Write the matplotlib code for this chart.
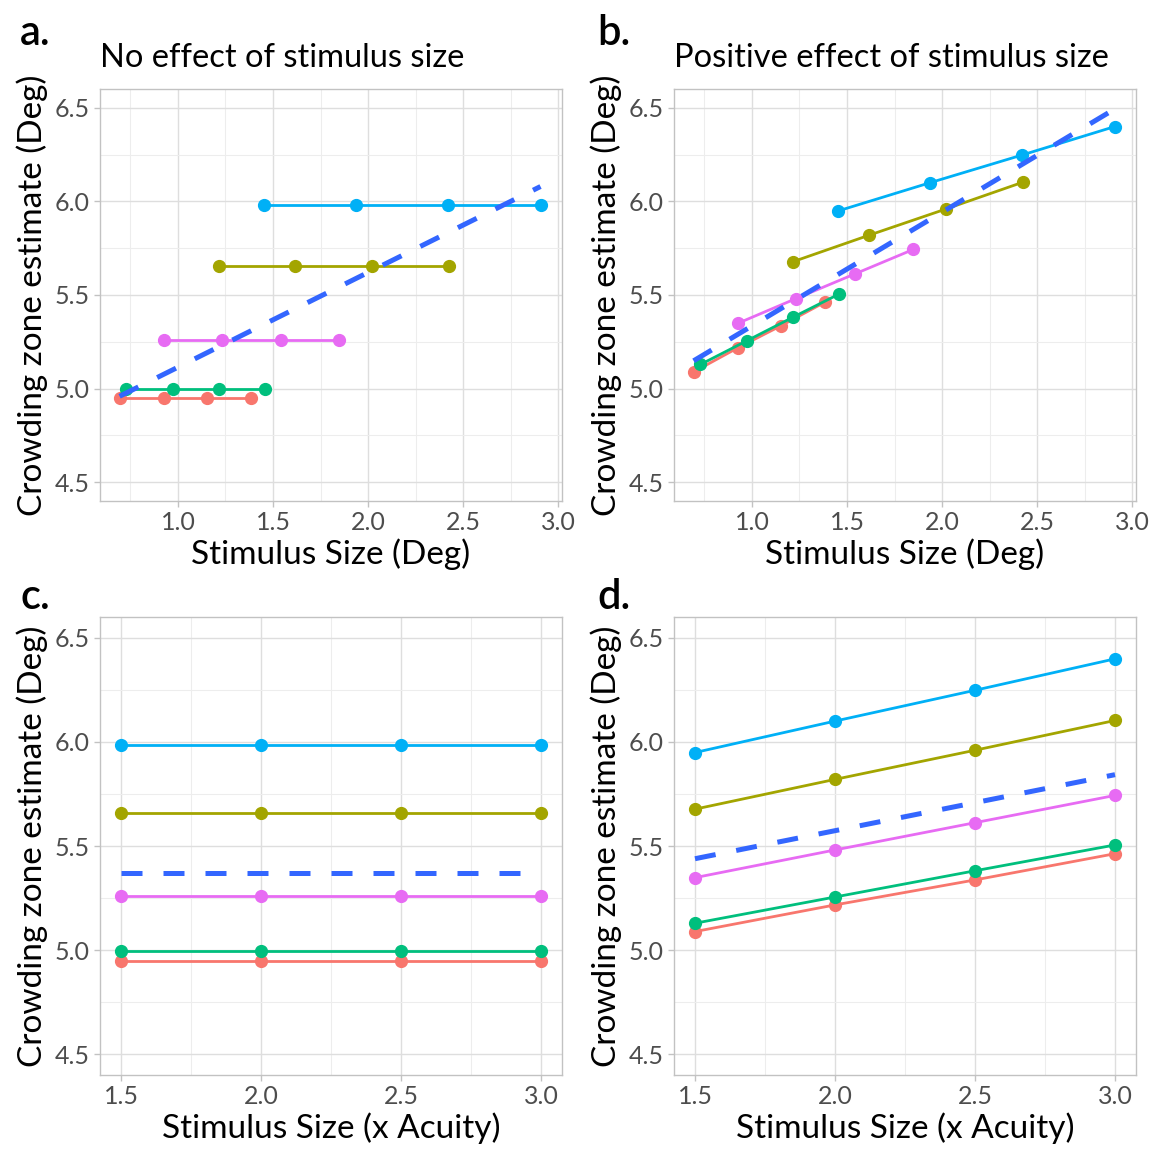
import numpy as np
import matplotlib.pyplot as plt
from matplotlib.ticker import MultipleLocator, FormatStrFormatter

plt.rcParams['font.family'] = ['Lato', 'DejaVu Sans']

# five observers, ggplot default hue palette
colours = ['#F8766D', '#00BF7D', '#E76BF3', '#A3A500', '#00B0F6']
acuity = [0.462, 0.486, 0.616, 0.809, 0.969]      # deg
size_multiple = [1.5, 2.0, 2.5, 3.0]               # x acuity

# model 1: crowding zone does not depend on stimulus size
flat_zone = [4.950, 4.997, 5.260, 5.657, 5.983]

# model 2: crowding zone grows with stimulus size
sloped_red = [5.089, 5.217, 5.337, 5.463]
sloped_green = [5.129, 5.255, 5.381, 5.505]
sloped_pink = [5.348, 5.481, 5.612, 5.743]
sloped_olive = [5.677, 5.820, 5.960, 6.103]
sloped_blue = [5.949, 6.100, 6.248, 6.399]
sloped_zone = [sloped_red, sloped_green, sloped_pink, sloped_olive, sloped_blue]

size_deg = [[a * m for m in size_multiple] for a in acuity]
size_acu = [size_multiple for _ in acuity]
flat_rows = [[z] * len(size_multiple) for z in flat_zone]

fig = plt.figure(figsize=(11.55, 11.51), dpi=100)

W = 1155.0
H = 1151.0


def make_ax(left, top, right, bottom):
    return fig.add_axes([left / W, 1 - bottom / H, (right - left) / W, (bottom - top) / H])


def draw_panel(ax, xs, ys, xlim, xmajor, xlabel):
    for x, y, c in zip(xs, ys, colours):
        ax.plot(x, y, '-o', color=c, lw=2.0, ms=8.5, zorder=3, clip_on=False)
    # linear fit over all points (geom_smooth, method = lm)
    allx = np.concatenate(xs)
    ally = np.concatenate(ys)
    k, b = np.polyfit(allx, ally, 1)
    fx = np.array([allx.min(), allx.max()])
    ax.plot(fx, k * fx + b, color='#3366FF', lw=3.6, dashes=(4.2, 4.2), zorder=4)

    ax.set_xlim(*xlim)
    ax.set_ylim(4.4, 6.6)
    ax.xaxis.set_major_locator(MultipleLocator(xmajor))
    ax.xaxis.set_minor_locator(MultipleLocator(xmajor / 2))
    ax.yaxis.set_major_locator(MultipleLocator(0.5))
    ax.yaxis.set_minor_locator(MultipleLocator(0.25))
    ax.xaxis.set_major_formatter(FormatStrFormatter('%.1f'))
    ax.yaxis.set_major_formatter(FormatStrFormatter('%.1f'))
    ax.grid(which='major', color='#DEDEDE', lw=1.0, zorder=0)
    ax.grid(which='minor', color='#EDEDED', lw=0.8, zorder=0)
    ax.set_axisbelow(True)
    for s in ax.spines.values():
        s.set_color('#C2C2C2')
        s.set_linewidth(1.0)
    ax.tick_params(which='major', length=4.5, width=1, color='#C2C2C2',
                   labelsize=18, labelcolor='#4D4D4D', pad=3)
    ax.tick_params(which='minor', length=0)
    ax.set_xlabel(xlabel, fontsize=24, labelpad=3)
    ax.set_ylabel('Crowding zone estimate (Deg)', fontsize=24, labelpad=5)


ax_a = make_ax(100, 89, 562, 501)
ax_b = make_ax(674, 89, 1136, 501)
ax_c = make_ax(100, 617, 562, 1075)
ax_d = make_ax(674, 617, 1136, 1075)

draw_panel(ax_a, size_deg, flat_rows, (0.59, 3.02), 0.5, 'Stimulus Size (Deg)')
draw_panel(ax_b, size_deg, sloped_zone, (0.59, 3.02), 0.5, 'Stimulus Size (Deg)')
draw_panel(ax_c, size_acu, flat_rows, (1.425, 3.075), 0.5, 'Stimulus Size (x Acuity)')
draw_panel(ax_d, size_acu, sloped_zone, (1.425, 3.075), 0.5, 'Stimulus Size (x Acuity)')

ax_a.set_title('No effect of stimulus size', loc='left', fontsize=23.5, pad=16)
ax_b.set_title('Positive effect of stimulus size', loc='left', fontsize=23.5, pad=16)

for label, x, y in [('a.', 20, 33), ('b.', 597, 33), ('c.', 20, 597), ('d.', 597, 597)]:
    fig.text(x / W, 1 - y / H, label, fontsize=30, fontweight='semibold',
             ha='left', va='center')

fig.savefig('out.png', dpi=100)
